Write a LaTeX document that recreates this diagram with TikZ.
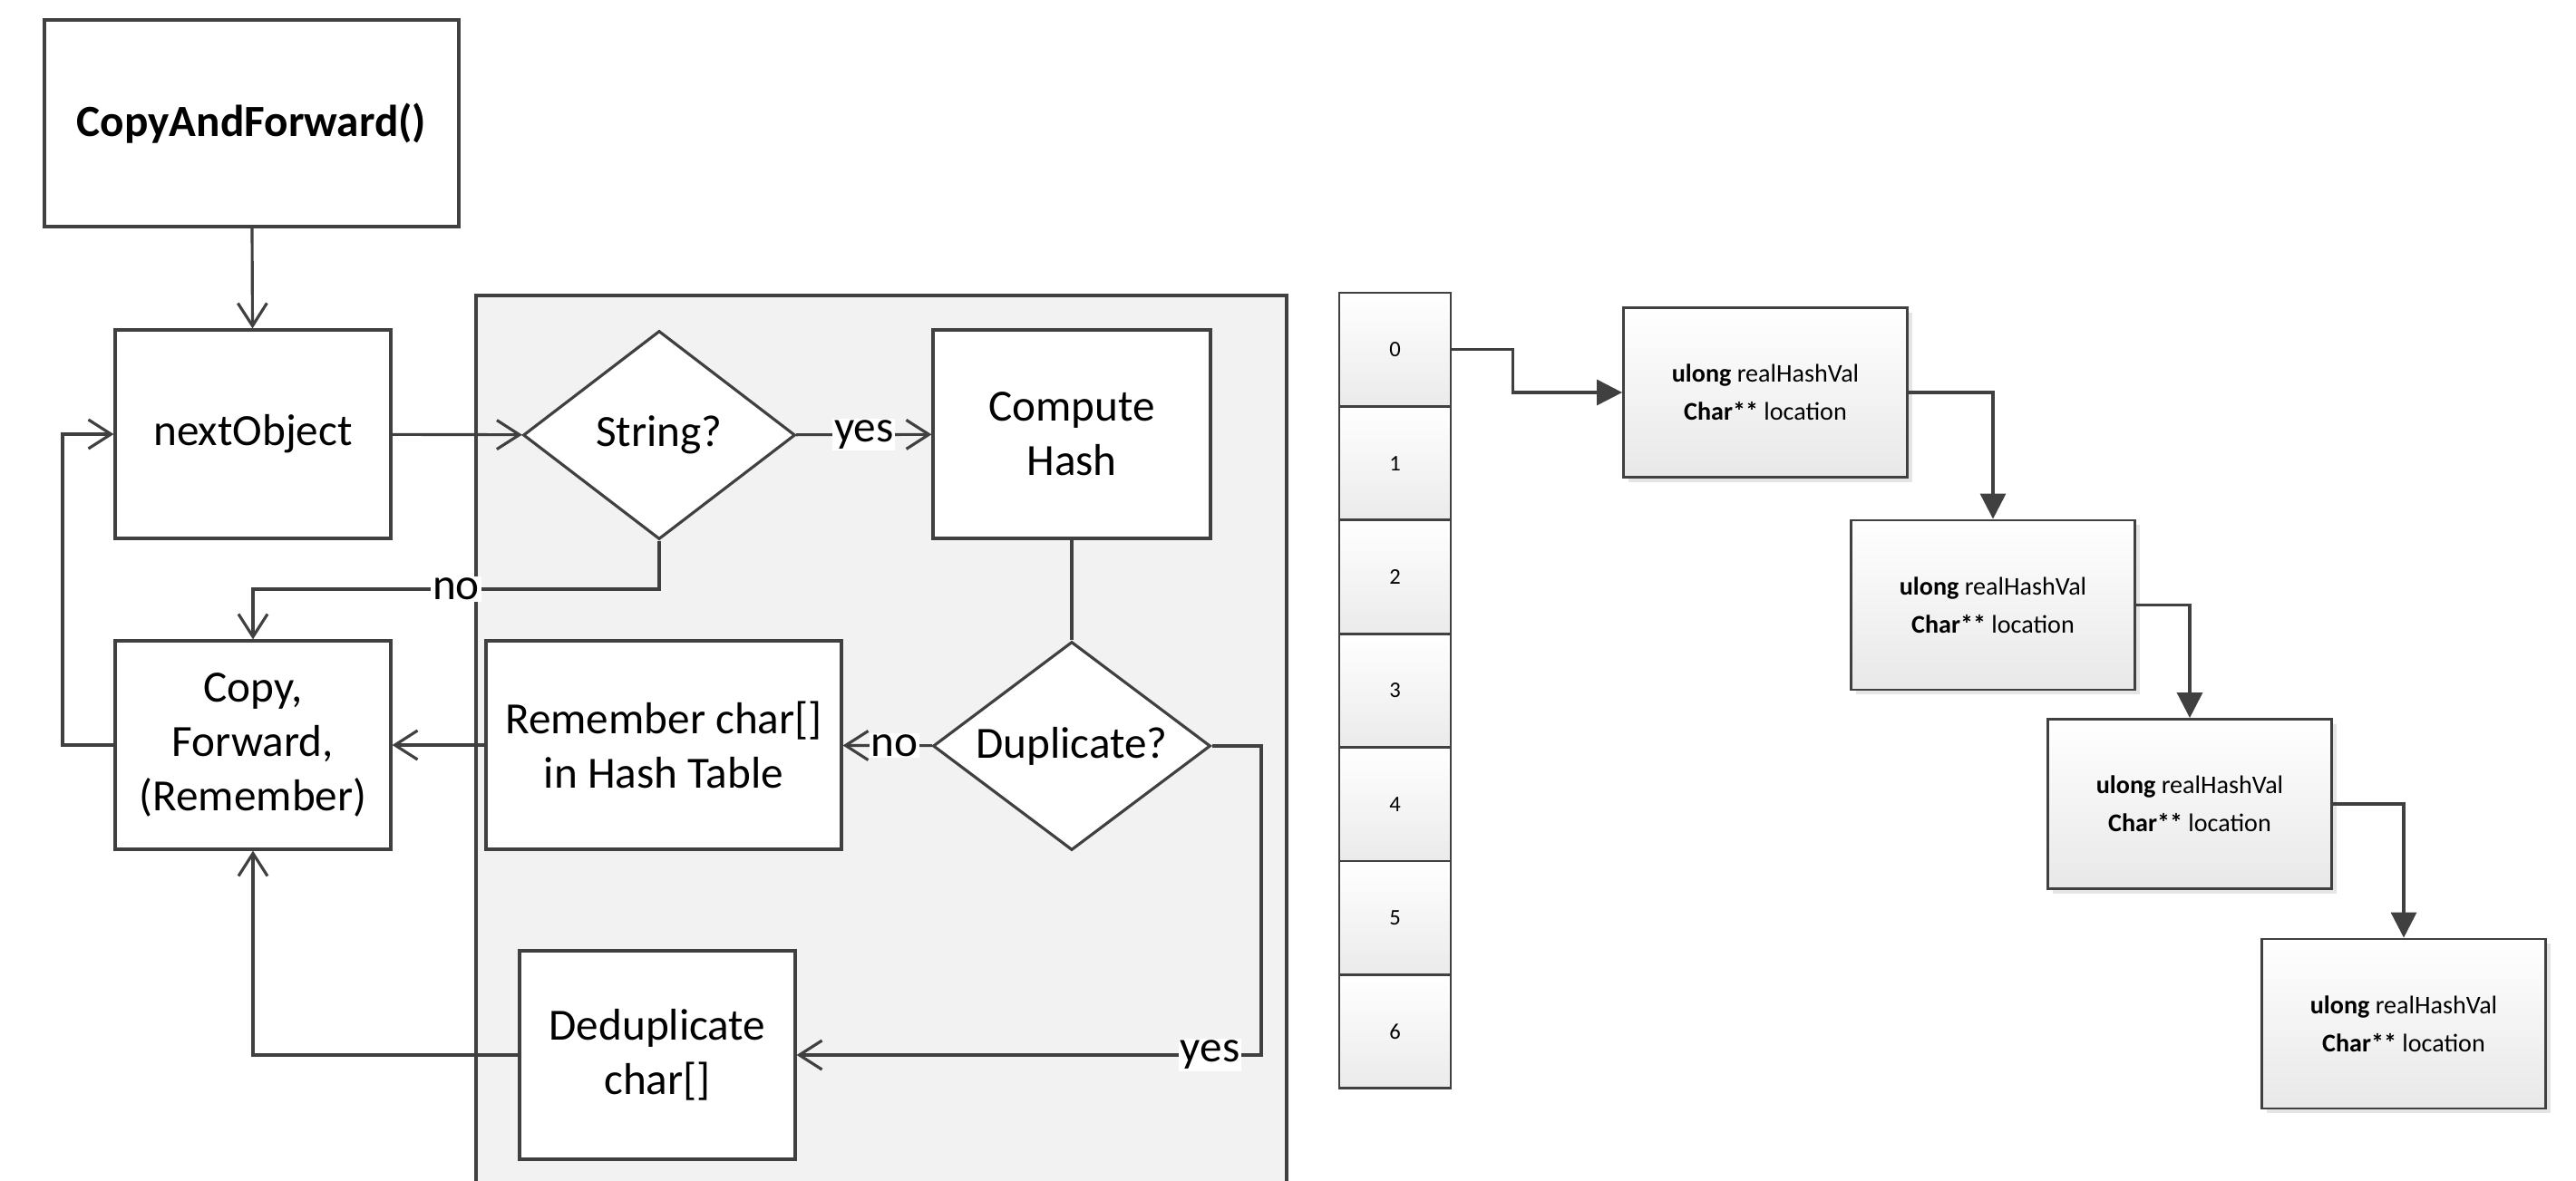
\documentclass[tikz,border=0pt]{standalone}
\usepackage{fontspec}
\setmainfont{Carlito}
\usetikzlibrary{arrows.meta,shapes.geometric,shadows,positioning}
\tikzset{every shadow/.style={fill=black!20,shadow xshift=1.5pt,shadow yshift=-1.5pt}}
\tikzset{
  block/.style={rectangle,draw=black!75,line width=0.9pt,fill=white,minimum width=3.04cm,minimum height=2.3cm,align=center,font=\fontsize{14}{17}\selectfont},
  decision/.style={diamond,draw=black!75,line width=0.9pt,fill=white,minimum width=3.04cm,minimum height=2.3cm,inner sep=0pt,align=center,font=\fontsize{14}{17}\selectfont},
  flow/.style={draw=black!75,line width=0.9pt,-{Straight Barb[length=2.5mm,width=3.2mm]}},
  lbl/.style={fill=white,inner sep=0.5pt,font=\fontsize{14}{17}\selectfont},
  cell/.style={rectangle,draw=black!75,line width=0.8pt,top color=white,bottom color=black!8,minimum width=1.23cm,minimum height=1.254cm,font=\fontsize{7}{8}\selectfont},
  entry/.style={rectangle,draw=black!75,line width=0.8pt,top color=white,bottom color=black!9,minimum width=3.13cm,minimum height=1.87cm,align=center,font=\fontsize{8}{12}\selectfont,drop shadow},
  link/.style={draw=black!75,line width=0.9pt,-{Triangle[length=2.8mm,width=2.8mm]}}
}
\begin{document}
\begin{tikzpicture}
\useasboundingbox (0,0) rectangle (28.41,-13.02);
% \draw[help lines] (0,0) grid (28,-13);
\draw[draw=black!75,line width=0.9pt,fill=black!5] (5.25,-13.4) rectangle (14.19,-3.26);
%
\node (caf) [block,minimum width=4.57cm,minimum height=2.28cm] at (2.775,-1.36) {\textbf{CopyAndForward()}};
\node (next) [block] at (2.79,-4.79) {nextObject};
\node (copy) [block] at (2.79,-8.22) {Copy,\\Forward,\\(Remember)};
\node (isstr) [decision,minimum width=3.0cm] at (7.27,-4.80) {\makebox[0pt]{String?}};
\node (hash) [block,minimum width=3.06cm] at (11.82,-4.79) {Compute\\Hash};
\node (rem) [block,minimum width=3.92cm] at (7.32,-8.22) {Remember char[]\\in Hash Table};
\node (dup) [decision,minimum width=3.06cm] at (11.82,-8.23) {\makebox[0pt]{Duplicate?}};
\node (dedup) [block] at (7.25,-11.64) {Deduplicate\\char[]};
\coordinate (nobend) at (0,-6.5);
\coordinate (yesbend) at (13.91,-11.64);
\coordinate (back) at (0.69,0);
%
\draw[flow] (caf) -- (next);
\draw[flow] (next) -- (isstr);
\draw[flow] (isstr) -- node[lbl]{yes} (hash);
\draw[flow] (isstr.south) -- (isstr.south |- nobend) -- node[lbl]{no} (copy.north |- nobend) -- (copy.north);
\draw[draw=black!75,line width=0.9pt] (hash) -- (dup);
\draw[flow] (dup) -- node[lbl,pos=0.42]{no} (rem);
\draw[flow] (rem) -- (copy);
\draw[flow] (dup.east) -- (dup.east -| yesbend) -- (yesbend) -- node[lbl,pos=0.11]{yes} (dedup.east);
\draw[flow] (dedup.west) -| (copy.south);
\draw[flow] (copy.west) -- (copy.west -| back) |- (next.west);
%
\foreach \i in {0,...,6}
  \node (cell\i) [cell] at (15.385,-3.857-1.254*\i) {\i};
\node (e1) [entry] at (19.47,-4.33) {\textbf{ulong} realHashVal\\\textbf{Char**} location};
\node (e2) [entry] at (21.98,-6.675) {\textbf{ulong} realHashVal\\\textbf{Char**} location};
\node (e3) [entry] at (24.15,-8.87) {\textbf{ulong} realHashVal\\\textbf{Char**} location};
\node (e4) [entry] at (26.51,-11.295) {\textbf{ulong} realHashVal\\\textbf{Char**} location};
%
\draw[link] (cell0.east) -- ++(0.67,0) |- (e1.west);
\draw[link] (e1.east) -| (e2.north);
\draw[link] (e2.east) -| (e3.north);
\draw[link] (e3.east) -| (e4.north);
\end{tikzpicture}
\end{document}
